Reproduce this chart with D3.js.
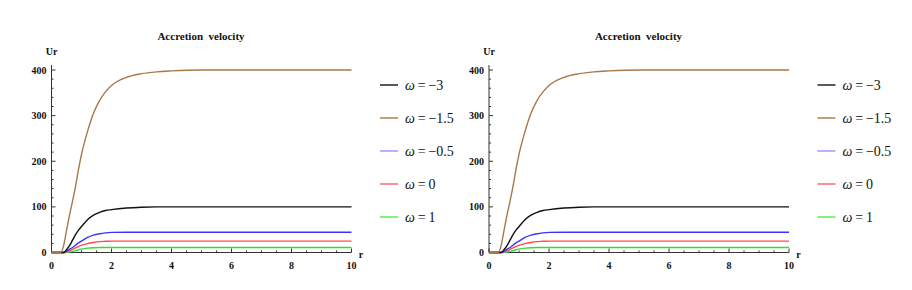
<!DOCTYPE html>
<html>
<head>
<meta charset="utf-8">
<style>
  body { margin: 0; background: #fff; }
  svg text { fill: #111; font-family: "Liberation Serif", "DejaVu Serif", serif; }
</style>
</head>
<body>
<div id="chart"></div>
<script src="https://d3js.org/d3.v7.min.js"></script>
<script>
// sampled radii
var rValues = [0, 0.3, 0.4, 0.5, 0.6, 0.7, 0.8, 0.9, 1.0, 1.2, 1.4, 1.6, 1.8, 2.0, 2.5, 3, 3.5, 4, 5, 6, 8, 10];

// Ur for each omega
var urMinus3   = [0, 0, 0, 6, 15, 27, 39, 49, 57, 72, 82, 88, 92, 94, 97.5, 99.3, 100, 100, 100, 100, 100, 100];
var urMinus1_5 = [0, 0, 14, 48, 82, 112, 145, 182, 215, 265, 305, 333, 352, 366, 384, 392, 396, 398, 400, 400, 400, 400];
var urMinus0_5 = [0, 0, 0, 3, 7, 11, 16, 21, 25, 33, 38, 41, 43, 44, 44.5, 44.5, 44.5, 44.5, 44.5, 44.5, 44.5, 44.5];
var urZero     = [0, 0, 0, 1.5, 4, 7, 10, 13, 15.5, 19.5, 22, 23.8, 24.5, 25, 25, 25, 25, 25, 25, 25, 25, 25];
var urPlus1    = [0, 0, 0, 0, 1, 2.5, 4, 6, 7.5, 9.5, 10.5, 11, 11, 11, 11, 11, 11, 11, 11, 11, 11, 11];

var legendLabels = ["\u22123", "\u22121.5", "\u22120.5", "0", "1"];
var seriesList = [urMinus3, urMinus1_5, urMinus0_5, urZero, urPlus1];
var lineColors = ["#111111", "#a8784a", "#3535ff", "#ff4a4a", "#33dd33"];
var legendColors = ["#222222", "#b08050", "#9a9aff", "#ff6a6a", "#55ee55"];

var xTicks = [0, 2, 4, 6, 8, 10];
var yTicks = [0, 100, 200, 300, 400];
var titleText = "Accretion\u00a0\u00a0velocity";

var W = 912, H = 290;
var svg = d3.select("#chart").append("svg")
    .attr("width", W).attr("height", H);

function drawPanel(offsetX) {
    var g = svg.append("g").attr("transform", "translate(" + offsetX + ",0)");

    var x = d3.scaleLinear().domain([0, 10]).range([51.5, 351.5]);
    var y = d3.scaleLinear().domain([0, 400]).range([252.5, 70]);

    // title and axis names
    g.append("text")
        .attr("x", 201).attr("y", 40)
        .attr("text-anchor", "middle")
        .attr("font-size", 11).attr("font-weight", "bold")
        .text(titleText);
    g.append("text")
        .attr("x", 51.5).attr("y", 55)
        .attr("text-anchor", "middle")
        .attr("font-size", 10).attr("font-weight", "bold")
        .text("Ur");
    g.append("text")
        .attr("x", 361).attr("y", 258)
        .attr("text-anchor", "middle")
        .attr("font-size", 10).attr("font-weight", "bold")
        .text("r");

    // axes lines
    g.append("line")
        .attr("x1", x(0)).attr("x2", x(0))
        .attr("y1", 65).attr("y2", y(0))
        .attr("stroke", "#333").attr("stroke-width", 1);
    g.append("line")
        .attr("x1", x(0)).attr("x2", x(10))
        .attr("y1", y(0)).attr("y2", y(0))
        .attr("stroke", "#333").attr("stroke-width", 1);

    // y ticks (inside)
    var yMinor = d3.range(0, 401, 20);
    g.selectAll(".ymin").data(yMinor).enter().append("line")
        .attr("x1", x(0)).attr("x2", function(d) { return x(0) + (d % 100 === 0 ? 4 : 2); })
        .attr("y1", function(d) { return y(d); }).attr("y2", function(d) { return y(d); })
        .attr("stroke", "#333").attr("stroke-width", 1);
    g.selectAll(".ylab").data(yTicks).enter().append("text")
        .attr("x", x(0) - 5).attr("y", function(d) { return y(d) + 3.5; })
        .attr("text-anchor", "end")
        .attr("font-size", 10).attr("font-weight", "bold")
        .text(function(d) { return d; });

    // x ticks (inside)
    var xMinor = d3.range(0, 10.01, 0.5);
    g.selectAll(".xmin").data(xMinor).enter().append("line")
        .attr("x1", function(d) { return x(d); }).attr("x2", function(d) { return x(d); })
        .attr("y1", y(0)).attr("y2", function(d) { return y(0) - (d % 2 === 0 ? 4 : 2); })
        .attr("stroke", "#333").attr("stroke-width", 1);
    g.selectAll(".xlab").data(xTicks).enter().append("text")
        .attr("x", function(d) { return x(d); }).attr("y", 269)
        .attr("text-anchor", "middle")
        .attr("font-size", 10).attr("font-weight", "bold")
        .text(function(d) { return d; });

    // curves
    var line = d3.line()
        .x(function(d) { return x(d[0]); })
        .y(function(d) { return y(d[1]); })
        .curve(d3.curveMonotoneX);

    [4, 3, 2, 0, 1].forEach(function(i) {
        var pts = rValues.map(function(r, k) { return [r, seriesList[i][k]]; });
        g.append("path")
            .attr("d", line(pts))
            .attr("fill", "none")
            .attr("stroke", lineColors[i])
            .attr("stroke-width", 1.4);
    });

    // legend
    var leg = g.selectAll(".leg").data(legendLabels).enter().append("g")
        .attr("transform", function(d, i) { return "translate(380," + (85 + i * 33) + ")"; });
    leg.append("line")
        .attr("x1", 0).attr("x2", 18).attr("y1", 0).attr("y2", 0)
        .attr("stroke", function(d, i) { return legendColors[i]; })
        .attr("stroke-width", 1.5);
    var t = leg.append("text")
        .attr("x", 25).attr("y", 5)
        .attr("font-size", 14);
    t.append("tspan").attr("font-style", "italic").text("\u03c9");
    t.append("tspan").text(function(d) { return "\u2009=\u2009" + d; });
}

drawPanel(0);
drawPanel(437.5);
</script>
</body>
</html>
